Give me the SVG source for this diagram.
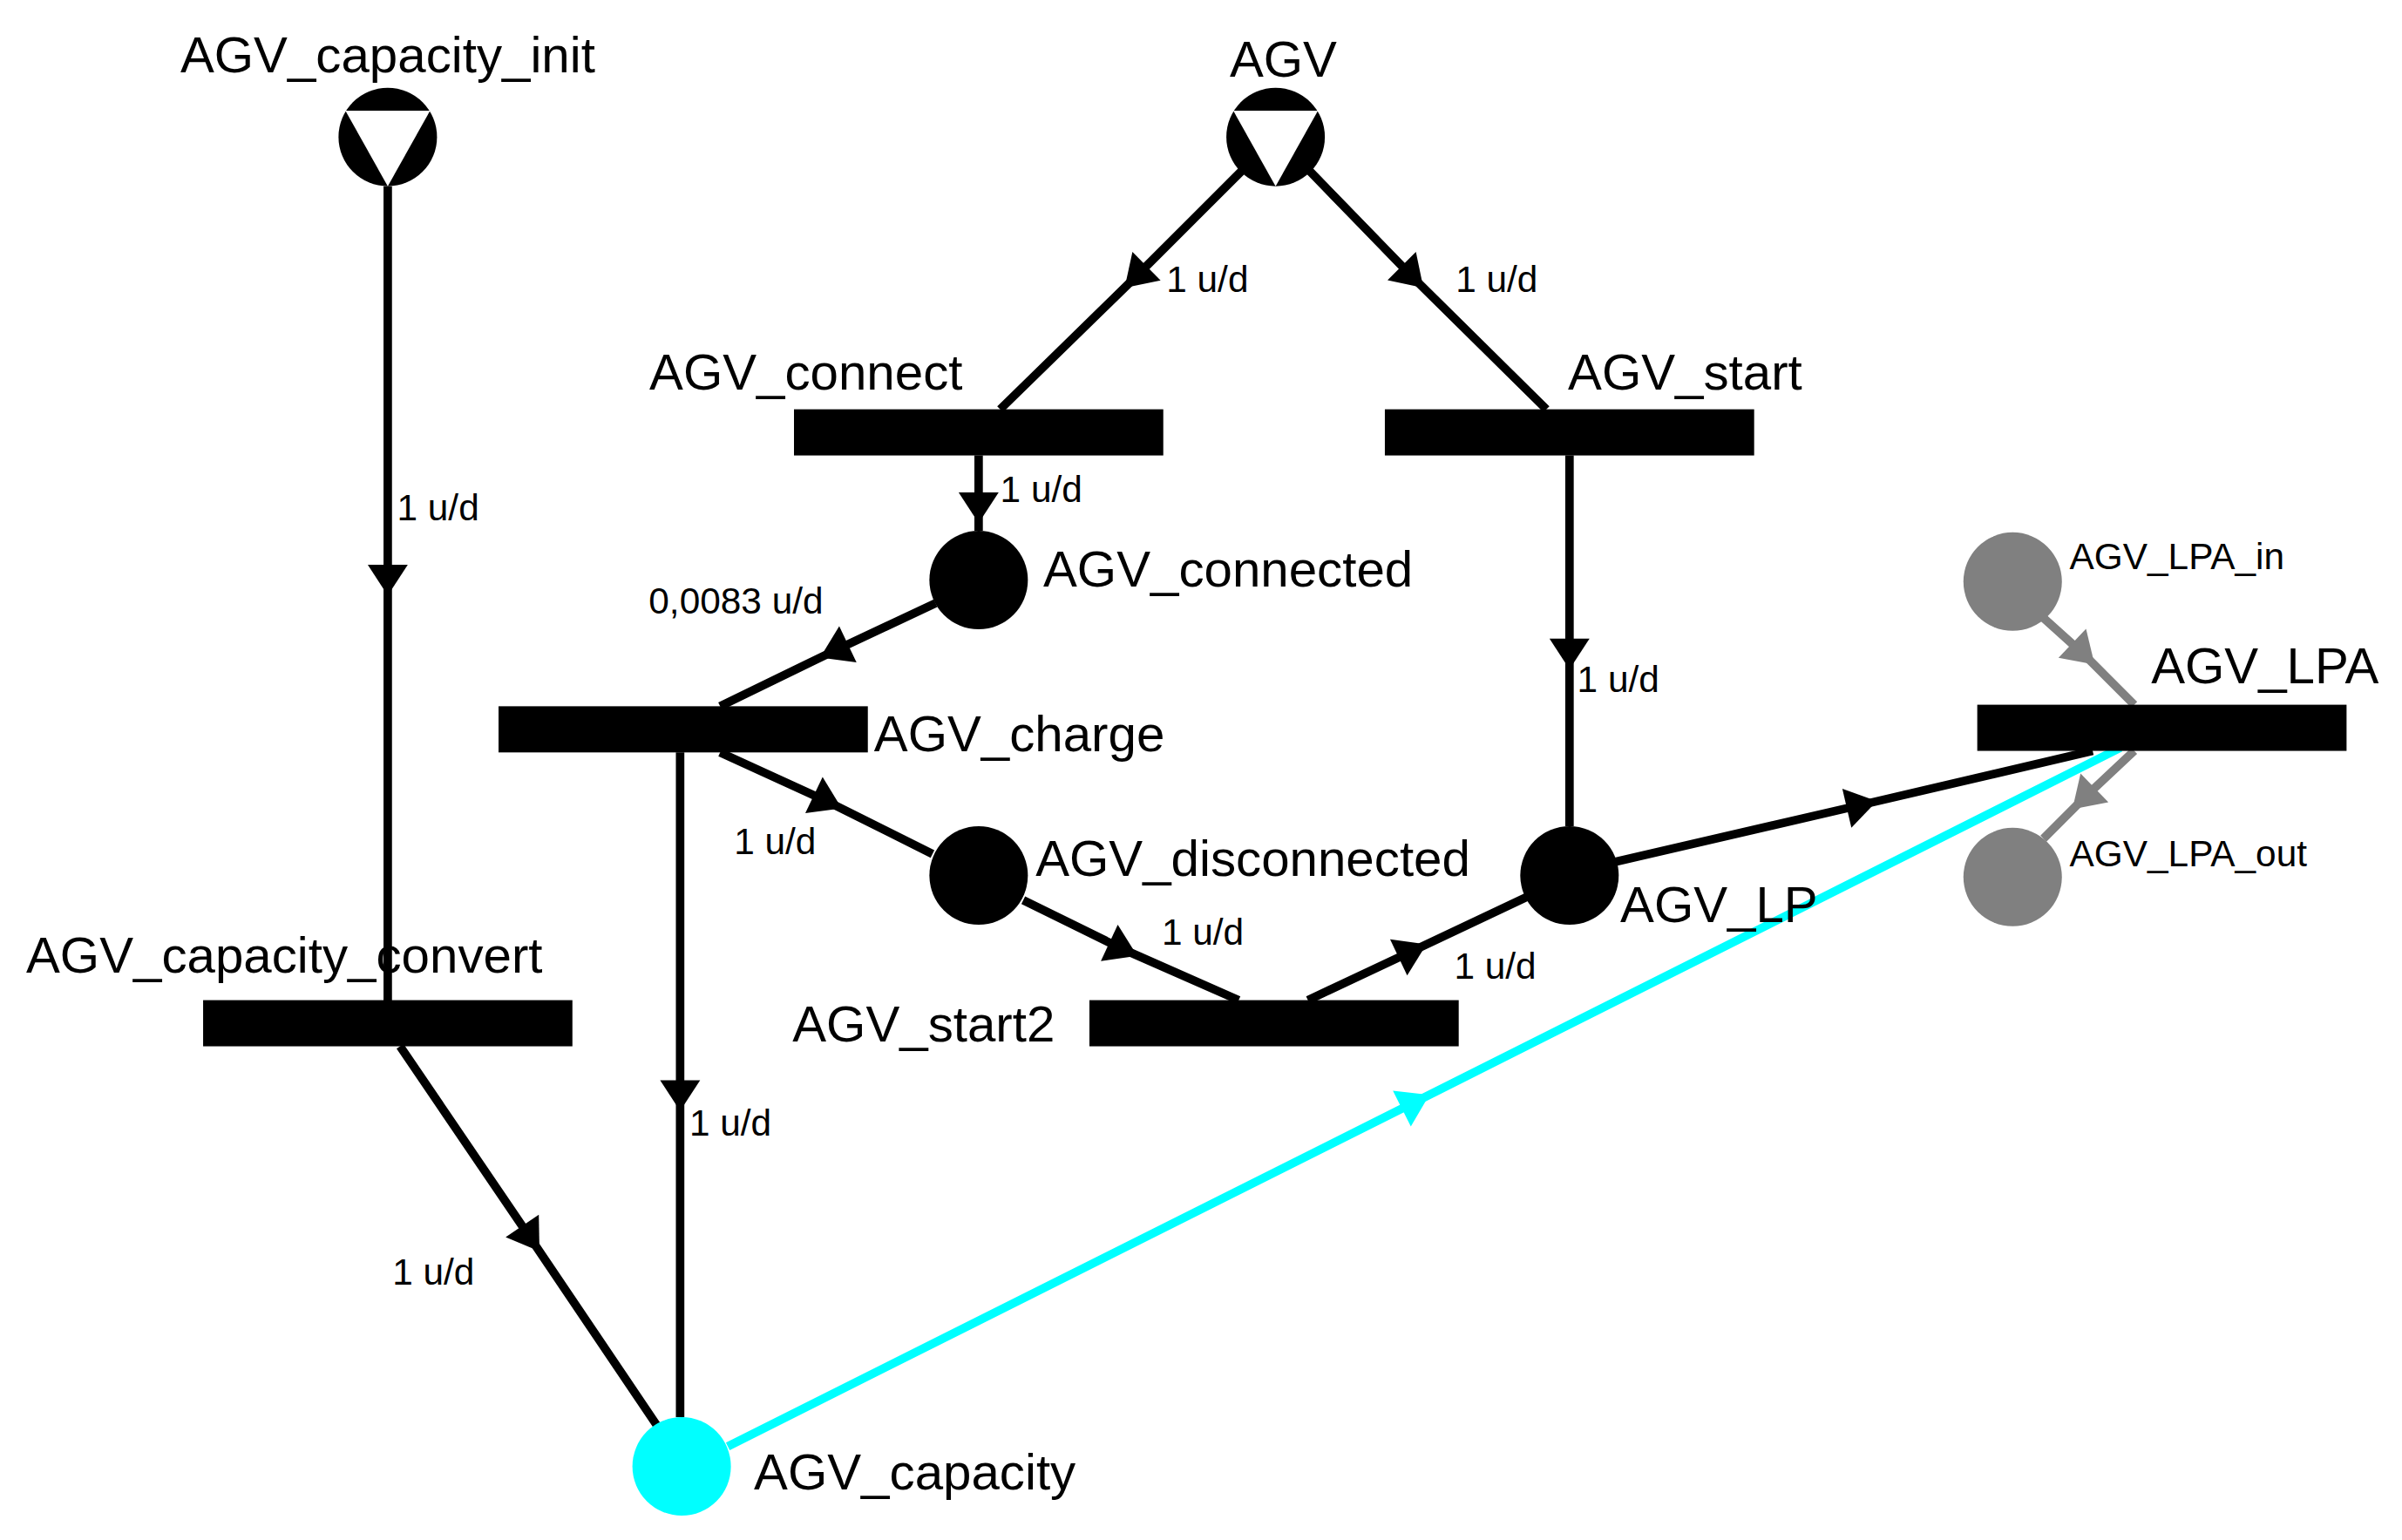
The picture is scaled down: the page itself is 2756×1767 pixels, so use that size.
<svg xmlns="http://www.w3.org/2000/svg" width="2756" height="1767" viewBox="0 0 2756 1767">
<style>
.big{font-family:"Liberation Sans",Arial,sans-serif;font-size:33px;fill:#000}
.sm{font-family:"Liberation Sans",Arial,sans-serif;font-size:24px;fill:#000}
.e{fill:none;stroke:#000;stroke-width:5.5;marker-mid:url(#ab)}
.ec{fill:none;stroke:#00ffff;stroke-width:5.5;marker-mid:url(#ac)}
.eg{fill:none;stroke:#808080;stroke-width:5.5;marker-mid:url(#ag)}
.t{fill:#000}
.p{fill:#000}
</style>
<defs>
<marker id="ab" markerUnits="userSpaceOnUse" markerWidth="40" markerHeight="40" refX="0" refY="0" viewBox="-20 -20 40 40" orient="auto" overflow="visible"><path d="M-10,-13 L10,0 L-10,13 Z" fill="#000"/></marker>
<marker id="ac" markerUnits="userSpaceOnUse" markerWidth="40" markerHeight="40" refX="0" refY="0" viewBox="-20 -20 40 40" orient="auto" overflow="visible"><path d="M-10,-13 L10,0 L-10,13 Z" fill="#00ffff"/></marker>
<marker id="ag" markerUnits="userSpaceOnUse" markerWidth="40" markerHeight="40" refX="0" refY="0" viewBox="-20 -20 40 40" orient="auto" overflow="visible"><path d="M-10,-13 L10,0 L-10,13 Z" fill="#808080"/></marker>
</defs>
<rect width="2756" height="1767" fill="#fff"/>
<g transform="scale(1.7655)">
<g id="connectors">
<polyline class="e" points="252,121 252,377 252,660"/>
<polyline class="e" points="808,110 738,180 650,266"/>
<polyline class="e" points="850,110 918,180 1005,266"/>
<polyline class="e" points="636,296 636,330 636,345"/>
<polyline class="e" points="608,392 542,423 468,459"/>
<polyline class="e" points="468,489 538,521 606,555"/>
<polyline class="e" points="442,489 442,712 442,921"/>
<polyline class="e" points="665,585 730,617 805,650"/>
<polyline class="e" points="850,650 918,618 992,583"/>
<polyline class="e" points="1020,296 1020,425 1020,537"/>
<polyline class="e" points="1050,560 1210,523 1360,488"/>
<polyline class="e" points="260,680 345,805 428,928"/>
<polyline class="ec" points="473,940 920,716 1378,486"/>
<polyline class="eg" points="1324,398 1354,425 1387,458"/>
<polyline class="eg" points="1387,488 1354,519 1328,545"/>
<text class="sm" x="258" y="338">1 u/d</text>
<text class="sm" x="758" y="190">1 u/d</text>
<text class="sm" x="946" y="190">1 u/d</text>
<text class="sm" x="650" y="326">1 u/d</text>
<text class="sm" x="535" y="399" text-anchor="end">0,0083 u/d</text>
<text class="sm" x="477" y="555">1 u/d</text>
<text class="sm" x="448" y="738">1 u/d</text>
<text class="sm" x="755" y="614">1 u/d</text>
<text class="sm" x="945" y="636">1 u/d</text>
<text class="sm" x="1025" y="450">1 u/d</text>
<text class="sm" x="255" y="835">1 u/d</text>
</g>
<g id="AGV_capacity_init"><circle cx="252" cy="89" r="32" fill="#000"/><polygon points="224.5,72 279.5,72 252,121" fill="#fff"/><text class="big" x="252" y="47" text-anchor="middle">AGV_capacity_init</text></g>
<g id="AGV"><circle cx="829" cy="89" r="32" fill="#000"/><polygon points="801.5,72 856.5,72 829,121" fill="#fff"/><text class="big" x="834" y="50" text-anchor="middle">AGV</text></g>
<g id="AGV_connect"><rect x="516" y="266" width="240" height="30" class="t"/><text class="big" x="422" y="253">AGV_connect</text></g>
<g id="AGV_start"><rect x="900" y="266" width="240" height="30" class="t"/><text class="big" x="1019" y="253">AGV_start</text></g>
<g id="AGV_connected"><circle cx="636" cy="377" r="32" class="p"/><text class="big" x="678" y="381">AGV_connected</text></g>
<g id="AGV_charge"><rect x="324" y="459" width="240" height="30" class="t"/><text class="big" x="568" y="488">AGV_charge</text></g>
<g id="AGV_disconnected"><circle cx="636" cy="569" r="32" class="p"/><text class="big" x="673" y="569">AGV_disconnected</text></g>
<g id="AGV_LP"><circle cx="1020" cy="569" r="32" class="p"/><text class="big" x="1053" y="599">AGV_LP</text></g>
<g id="AGV_capacity_convert"><rect x="132" y="650" width="240" height="30" class="t"/><text class="big" x="17" y="632">AGV_capacity_convert</text></g>
<g id="AGV_start2"><rect x="708" y="650" width="240" height="30" class="t"/><text class="big" x="515" y="677">AGV_start2</text></g>
<g id="AGV_capacity"><circle cx="443" cy="953" r="32" fill="#00ffff"/><text class="big" x="490" y="968">AGV_capacity</text></g>
<g id="AGV_LPA_in"><circle cx="1308" cy="378" r="32" fill="#808080"/><text class="sm" x="1345" y="370">AGV_LPA_in</text></g>
<g id="AGV_LPA_out"><circle cx="1308" cy="570" r="32" fill="#808080"/><text class="sm" x="1345" y="563">AGV_LPA_out</text></g>
<g id="AGV_LPA"><rect x="1285" y="458" width="240" height="30" class="t"/><text class="big" x="1398" y="444">AGV_LPA</text></g>
</g>
</svg>
